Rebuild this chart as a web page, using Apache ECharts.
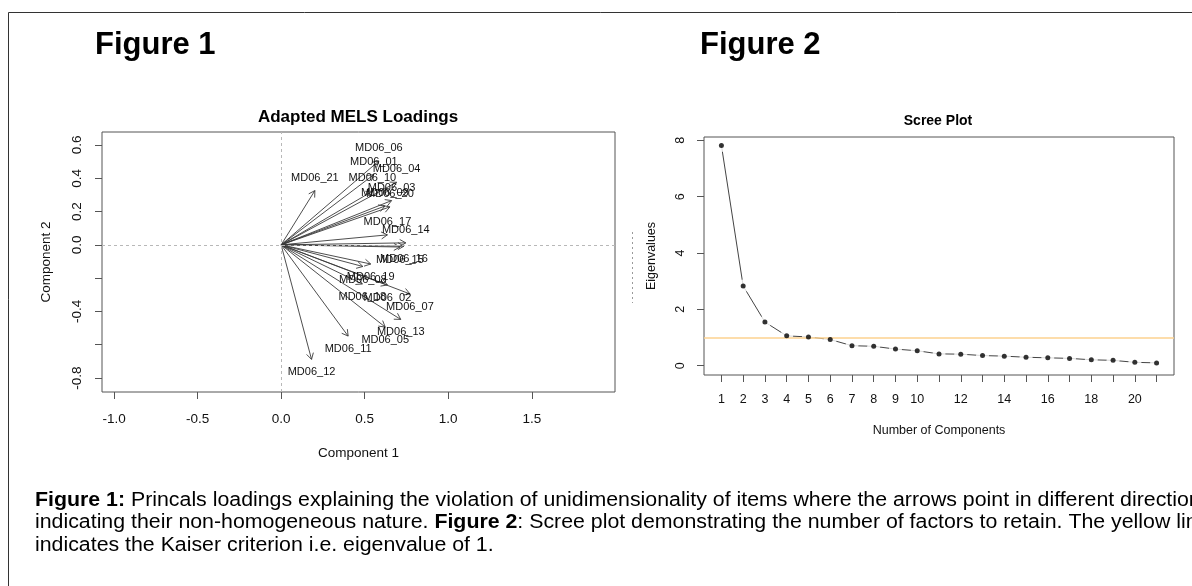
<!DOCTYPE html>
<html>
<head>
<meta charset="utf-8">
<script src="https://cdn.jsdelivr.net/npm/echarts@6/dist/echarts.min.js"></script>
<style>
  html, body { margin: 0; padding: 0; background: #ffffff; }
  #chart { width: 1192px; height: 586px; }
</style>
</head>
<body>
<div id="chart"></div>
<script>
// Princals loadings (component 1 / component 2) for the 21 adapted MELS items
const ITEMS = ['MD06_01','MD06_02','MD06_03','MD06_04','MD06_05','MD06_06','MD06_07',
               'MD06_08','MD06_09','MD06_10','MD06_11','MD06_12','MD06_13','MD06_14',
               'MD06_15','MD06_16','MD06_17','MD06_18','MD06_19','MD06_20','MD06_21'];
const LOAD_C1 = [0.555, 0.636, 0.661, 0.691, 0.623, 0.585, 0.771,
                 0.489, 0.621, 0.546, 0.401, 0.182, 0.716, 0.746,
                 0.711, 0.735, 0.636, 0.486, 0.536, 0.651, 0.202];
const LOAD_C2 = [0.422, -0.241, 0.266, 0.376, -0.494, 0.504, -0.295,
                 -0.130, 0.233, 0.322, -0.548, -0.688, -0.448, 0.012,
                 -0.013, -0.008, 0.060, -0.235, -0.115, 0.228, 0.326];
const LOAD_X_TICKS = [-1.0, -0.5, 0.0, 0.5, 1.0, 1.5];
const LOAD_Y_TICKS = [-0.8, -0.6, -0.4, -0.2, 0.0, 0.2, 0.4, 0.6];
const LOAD_Y_LABELS = [-0.8, -0.4, 0.0, 0.2, 0.4, 0.6];

// Scree plot: eigenvalue of each component
const COMPONENTS = [1,2,3,4,5,6,7,8,9,10,11,12,13,14,15,16,17,18,19,20,21];
const EIGENVALUES = [7.82, 2.83, 1.55, 1.06, 1.02, 0.93, 0.71, 0.69, 0.59, 0.53, 0.42,
                     0.41, 0.36, 0.34, 0.30, 0.28, 0.26, 0.21, 0.19, 0.12, 0.10];
const SCREE_X_LABELS = [1,2,3,4,5,6,7,8,9,10,12,14,16,18,20];
const SCREE_Y_TICKS = [0, 2, 4, 6, 8];
const KAISER = 1;

const FONT = "'Liberation Sans', Arial, Helvetica, sans-serif";
const INK = '#111111';
const FRAME = '#555555';

const loadings = ITEMS.map((name, i) => [LOAD_C1[i], LOAD_C2[i], name]);
const scree = COMPONENTS.map((c, i) => [c, EIGENVALUES[i]]);

// R-style open arrow from the origin to each loading
function renderArrow(params, api) {
  const o = api.coord([0, 0]);
  const t = api.coord([api.value(0), api.value(1)]);
  const ang = Math.atan2(t[1] - o[1], t[0] - o[0]);
  const L = 7, a = Math.PI / 6;
  const p1 = [t[0] - L * Math.cos(ang - a), t[1] - L * Math.sin(ang - a)];
  const p2 = [t[0] - L * Math.cos(ang + a), t[1] - L * Math.sin(ang + a)];
  const st = { stroke: '#3a3a3a', lineWidth: 0.9, fill: null };
  return {
    type: 'group',
    children: [
      { type: 'line', shape: { x1: o[0], y1: o[1], x2: t[0], y2: t[1] }, style: st },
      { type: 'polyline', shape: { points: [p1, t, p2] }, style: st }
    ]
  };
}

// Item label above the tip for positive loadings, below for negative ones
function renderLabel(params, api) {
  const y = api.value(1);
  const t = api.coord([api.value(0), y]);
  const off = y >= 0 ? -13 : 13;
  return {
    type: 'text',
    x: t[0], y: t[1] + off,
    style: {
      text: ITEMS[params.dataIndex],
      font: '11px ' + FONT,
      fill: INK,
      align: 'center',
      verticalAlign: 'middle'
    }
  };
}

const axisCommon = {
  type: 'value',
  splitLine: { show: false },
  axisLine: { show: false, onZero: false },
  axisTick: { show: true, inside: false, length: 7, lineStyle: { color: FRAME, width: 1 } }
};

const CAPTION_FONT = 20;
const CAPTION_STRETCH = 1.066;
const captionRich = { b: { fontWeight: 'bold', fontSize: CAPTION_FONT, fontFamily: FONT, fill: '#000' } };

const option = {
  backgroundColor: '#ffffff',
  animation: false,
  grid: [
    { left: 102, top: 132, width: 513, height: 260, show: true, borderColor: FRAME, borderWidth: 1, backgroundColor: 'transparent' },
    { left: 704, top: 137, width: 470, height: 238, show: true, borderColor: FRAME, borderWidth: 1, backgroundColor: 'transparent' }
  ],
  xAxis: [
    Object.assign({}, axisCommon, {
      gridIndex: 0, min: -1.072, max: 1.998,
      axisTick: Object.assign({}, axisCommon.axisTick, { customValues: LOAD_X_TICKS }),
      axisLabel: { customValues: LOAD_X_TICKS, formatter: v => v.toFixed(1), margin: 20,
                   fontSize: 13.5, color: INK, fontFamily: FONT },
      name: 'Component 1', nameLocation: 'middle', nameGap: 54,
      nameTextStyle: { fontSize: 13.5, color: INK, fontFamily: FONT }
    }),
    Object.assign({}, axisCommon, {
      gridIndex: 1, min: 0.2, max: 21.8,
      axisTick: Object.assign({}, axisCommon.axisTick, { customValues: COMPONENTS }),
      axisLabel: { customValues: SCREE_X_LABELS, margin: 18,
                   fontSize: 12.5, color: INK, fontFamily: FONT },
      name: 'Number of Components', nameLocation: 'middle', nameGap: 49,
      nameTextStyle: { fontSize: 12.5, color: INK, fontFamily: FONT }
    })
  ],
  yAxis: [
    Object.assign({}, axisCommon, {
      gridIndex: 0, min: -0.884, max: 0.678,
      axisTick: Object.assign({}, axisCommon.axisTick, { customValues: LOAD_Y_TICKS }),
      axisLabel: { customValues: LOAD_Y_LABELS, formatter: v => v.toFixed(1), margin: 18, rotate: 90,
                   fontSize: 13.5, color: INK, fontFamily: FONT },
      name: 'Component 2', nameLocation: 'middle', nameGap: 49, nameRotate: 90,
      nameTextStyle: { fontSize: 13.5, color: INK, fontFamily: FONT }
    }),
    Object.assign({}, axisCommon, {
      gridIndex: 1, min: -0.33, max: 8.12,
      axisTick: Object.assign({}, axisCommon.axisTick, { customValues: SCREE_Y_TICKS }),
      axisLabel: { customValues: SCREE_Y_TICKS, margin: 17, rotate: 90,
                   fontSize: 12.5, color: INK, fontFamily: FONT },
      name: 'Eigenvalues', nameLocation: 'middle', nameGap: 46, nameRotate: 90,
      nameTextStyle: { fontSize: 12.5, color: INK, fontFamily: FONT }
    })
  ],
  series: [
    // dashed reference lines through the origin
    {
      type: 'line', xAxisIndex: 0, yAxisIndex: 0, data: [], z: 1, silent: true,
      markLine: {
        silent: true, symbol: ['none', 'none'], label: { show: false },
        lineStyle: { color: '#b8b8b8', type: [3, 3], width: 1 },
        data: [{ xAxis: 0 }, { yAxis: 0 }]
      }
    },
    {
      type: 'custom', xAxisIndex: 0, yAxisIndex: 0, data: loadings, z: 2,
      renderItem: renderArrow, silent: true
    },
    {
      type: 'custom', xAxisIndex: 0, yAxisIndex: 0, data: loadings, z: 3,
      renderItem: renderLabel, silent: true
    },
    // scree line drawn as R's type "b": segments broken around each point
    {
      type: 'line', xAxisIndex: 1, yAxisIndex: 1, data: scree, z: 2, showSymbol: false,
      lineStyle: { color: '#444444', width: 1 }, silent: true
    },
    {
      type: 'scatter', xAxisIndex: 1, yAxisIndex: 1, data: scree, z: 3,
      symbol: 'circle', symbolSize: 13, itemStyle: { color: '#ffffff' }, silent: true
    },
    {
      type: 'line', xAxisIndex: 1, yAxisIndex: 1, data: [], z: 4, silent: true,
      markLine: {
        silent: true, symbol: ['none', 'none'], label: { show: false },
        lineStyle: { color: '#fdd28f', type: 'solid', width: 1.6 },
        data: [{ yAxis: KAISER }]
      }
    },
    {
      type: 'scatter', xAxisIndex: 1, yAxisIndex: 1, data: scree, z: 5,
      symbol: 'circle', symbolSize: 5, itemStyle: { color: '#000000' }, silent: true
    }
  ],
  graphic: [
    // outer frame
    { type: 'line', shape: { x1: 8.5, y1: 12.5, x2: 1192, y2: 12.5 }, style: { stroke: '#333333', lineWidth: 1 } },
    { type: 'line', shape: { x1: 8.5, y1: 12.5, x2: 8.5, y2: 586 }, style: { stroke: '#333333', lineWidth: 1 } },
    // clipped remnant of a rotated label left of the scree plot
    { type: 'line', shape: { x1: 632.5, y1: 232, x2: 632.5, y2: 303 }, style: { stroke: '#9a9a9a', lineWidth: 1, lineDash: [2, 3] } },
    { type: 'text', x: 95, y: 45, style: { text: 'Figure 1', font: 'bold 31px ' + FONT, fill: '#000', verticalAlign: 'middle' } },
    { type: 'text', x: 700, y: 45, style: { text: 'Figure 2', font: 'bold 31px ' + FONT, fill: '#000', verticalAlign: 'middle' } },
    { type: 'text', x: 358, y: 117, style: { text: 'Adapted MELS Loadings', font: 'bold 17px ' + FONT, fill: '#000', align: 'center', verticalAlign: 'middle' } },
    { type: 'text', x: 938, y: 121, style: { text: 'Scree Plot', font: 'bold 14px ' + FONT, fill: '#000', align: 'center', verticalAlign: 'middle' } },
    // caption
    { type: 'text', x: 35, y: 500, scaleX: CAPTION_STRETCH, style: {
        text: '{b|Figure 1:} Princals loadings explaining the violation of unidimensionality of items where the arrows point in different directions',
        font: CAPTION_FONT + 'px ' + FONT, fill: '#000', verticalAlign: 'middle', rich: captionRich } },
    { type: 'text', x: 35, y: 522, scaleX: CAPTION_STRETCH, style: {
        text: 'indicating their non-homogeneous nature. {b|Figure 2}: Scree plot demonstrating the number of factors to retain. The yellow line',
        font: CAPTION_FONT + 'px ' + FONT, fill: '#000', verticalAlign: 'middle', rich: captionRich } },
    { type: 'text', x: 35, y: 545, scaleX: CAPTION_STRETCH, style: {
        text: 'indicates the Kaiser criterion i.e. eigenvalue of 1.',
        font: CAPTION_FONT + 'px ' + FONT, fill: '#000', verticalAlign: 'middle' } }
  ]
};

const chart = echarts.init(document.getElementById('chart'), null, { renderer: 'canvas' });
chart.setOption(option);
</script>
</body>
</html>
